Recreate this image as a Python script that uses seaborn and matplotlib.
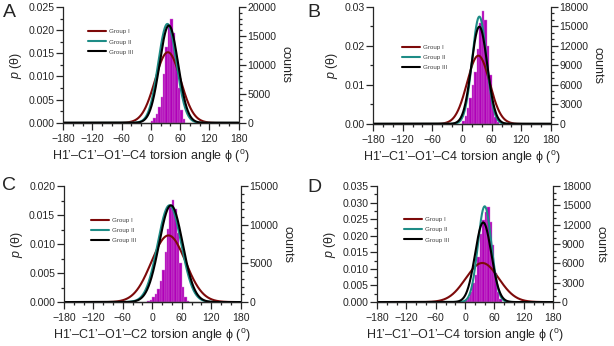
#%% ---- Load Packages ----
import numpy as np
import pandas as pd
import matplotlib
matplotlib.use("Agg")
import matplotlib.pyplot as plt
from matplotlib.ticker import MultipleLocator, FormatStrFormatter
import seaborn as sns

sns.set_style("ticks")
plt.rcParams['font.family'] = ['Liberation Sans', 'DejaVu Sans']
plt.rcParams['mathtext.fontset'] = 'custom'
plt.rcParams['mathtext.it'] = 'Liberation Sans:italic'
plt.rcParams['mathtext.rm'] = 'Liberation Sans'

# %% ---- Data ----
panels = ['A', 'B', 'C', 'D']
groups = ['Group I', 'Group II', 'Group III']
xlabels = ["H1\u2019\u2013C1\u2019\u2013O1\u2019\u2013C4 torsion angle \u03d5 ($^\\mathrm{o}$)",
           "H1\u2019\u2013C1\u2019\u2013O1\u2019\u2013C4 torsion angle \u03d5 ($^\\mathrm{o}$)",
           "H1\u2019\u2013C1\u2019\u2013O1\u2019\u2013C2 torsion angle \u03d5 ($^\\mathrm{o}$)",
           "H1\u2019\u2013C1\u2019\u2013O1\u2019\u2013C4 torsion angle \u03d5 ($^\\mathrm{o}$)"]

# gaussian fits per group: mean and sd (degrees)
mu_A = [35, 34, 37]
sd_A = [26.2, 18.7, 19.0]
mu_B = [33, 35, 35]
sd_B = [22.8, 14.5, 16.0]
mu_C = [33, 35, 38]
sd_C = [34.7, 23.9, 23.9]
mu_D = [35, 40, 37]
sd_D = [33.8, 13.8, 16.6]

# histogram, 5 degree bins (left edges)
edges_A = [0, 5, 10, 15, 20, 25, 30, 35, 40, 45, 50, 55, 60, 65]
counts_A = [300, 800, 1500, 2800, 4500, 8500, 13000, 16500, 18000, 15500, 11000, 6000, 2200, 700]
edges_B = [0, 5, 10, 15, 20, 25, 30, 35, 40, 45, 50, 55, 60, 65, 70]
counts_B = [500, 1200, 2500, 4000, 6000, 8000, 11500, 15500, 17300, 16000, 12000, 7500, 3000, 1000, 300]
edges_C = [-10, -5, 0, 5, 10, 15, 20, 25, 30, 35, 40, 45, 50, 55, 60, 65, 70]
counts_C = [100, 300, 600, 1000, 1700, 2700, 4200, 6500, 9500, 12300, 13200, 12000, 9000, 5000, 2000, 700, 200]
edges_D = [0, 5, 10, 15, 20, 25, 30, 35, 40, 45, 50, 55, 60, 65, 70]
counts_D = [300, 800, 1500, 3000, 4200, 7000, 10500, 12800, 14000, 14800, 12500, 8800, 4500, 1500, 400]

ylims = [0.025, 0.03, 0.020, 0.035]
ysteps = [0.005, 0.01, 0.005, 0.005]
yfmts = ['%.3f', '%.2f', '%.3f', '%.3f']
clims = [20000, 18000, 15000, 18000]
csteps = [5000, 3000, 5000, 3000]

colors = ['#7d0a0a', '#1e8c86', '#000000']
bar_color = '#b000b8'

# %% ---- Layout ----
boxes = [[0.1026, 0.645, 0.2860, 0.335],
         [0.6075, 0.642, 0.2900, 0.338],
         [0.1040, 0.127, 0.2880, 0.335],
         [0.6140, 0.127, 0.2870, 0.335]]
leg_pos = [(0.13, 0.83), (0.15, 0.70), (0.14, 0.75), (0.14, 0.755)]
letter_pos = [(0.004, 0.987), (0.500, 0.987), (0.004, 0.487), (0.500, 0.484)]

mus = [mu_A, mu_B, mu_C, mu_D]
sds = [sd_A, sd_B, sd_C, sd_D]
edges = [edges_A, edges_B, edges_C, edges_D]
counts = [counts_A, counts_B, counts_C, counts_D]

fig = plt.figure(figsize=(6.14, 3.46), dpi=100)
theta = np.linspace(-180, 180, 721)

for i, p in enumerate(panels):
    ax = fig.add_axes(boxes[i])
    ax2 = ax.twinx()

    # histogram on the counts axis
    e = edges[i]
    hist = pd.DataFrame({'phi': [v + 2.5 for v in e], 'n': counts[i]})
    sns.histplot(data=hist, x='phi', weights='n', binwidth=5, binrange=(e[0], e[-1] + 5),
                 color=bar_color, alpha=1, edgecolor='#d27ad6', linewidth=0.3, ax=ax2)

    # gaussian fits on the density axis
    for g, name in enumerate(groups):
        dens = np.exp(-0.5 * ((theta - mus[i][g]) / sds[i][g]) ** 2) / (sds[i][g] * np.sqrt(2 * np.pi))
        sns.lineplot(x=theta, y=dens, color=colors[g], lw=1.5, label=name, ax=ax)

    ax.set_zorder(ax2.get_zorder() + 1)
    ax.patch.set_visible(False)

    ax.set_xlim(-180, 180)
    ax.set_ylim(0, ylims[i])
    ax2.set_ylim(0, clims[i])
    ax.xaxis.set_major_locator(MultipleLocator(60))
    ax.xaxis.set_minor_locator(MultipleLocator(20))
    ax.yaxis.set_major_locator(MultipleLocator(ysteps[i]))
    ax.yaxis.set_minor_locator(MultipleLocator(ysteps[i] / 2))
    ax.yaxis.set_major_formatter(FormatStrFormatter(yfmts[i]))
    ax2.yaxis.set_major_locator(MultipleLocator(csteps[i]))
    ax2.yaxis.set_minor_locator(MultipleLocator(1000))

    for a in (ax, ax2):
        a.spines['top'].set_visible(False)
        for s in a.spines.values():
            s.set_linewidth(0.9)
        a.tick_params(which='major', length=4.7, width=0.9, labelsize=7.6, pad=1.5)
        a.tick_params(which='minor', length=2.4, width=0.9)
    ax.tick_params(axis='x', which='major', pad=3)
    ax2.spines['left'].set_visible(False)
    ax.spines['right'].set_visible(False)

    ax.set_xlabel(xlabels[i], fontsize=9, labelpad=3)
    ax.set_ylabel('$p$ (\u03b8)', fontsize=9, labelpad=3)
    ax2.set_ylabel('counts', fontsize=9, rotation=270, labelpad=11)

    leg = ax.legend(loc='upper left', bbox_to_anchor=leg_pos[i], frameon=False,
                    fontsize=4.5, handlelength=2.8, handletextpad=0.55,
                    labelspacing=0.75, borderaxespad=0)
    for t in leg.get_texts():
        t.set_color('#444444')

    fig.text(letter_pos[i][0], letter_pos[i][1], p, fontsize=14,
             va='top', ha='left')

fig.savefig('out.png', dpi=100)
